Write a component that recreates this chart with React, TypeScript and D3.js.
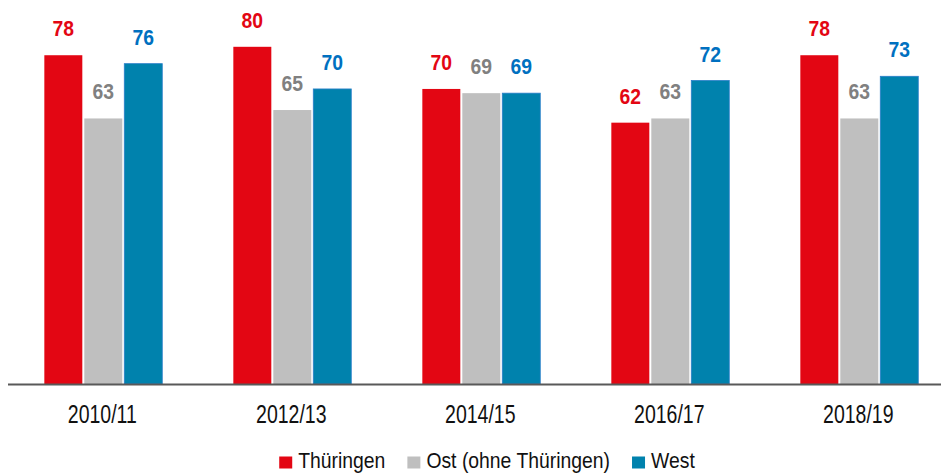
import React, { useEffect, useRef } from 'react'
import * as d3 from 'd3'

const categories = ['2010/11', '2012/13', '2014/15', '2016/17', '2018/19']
const seriesNames = ['Thüringen', 'Ost (ohne Thüringen)', 'West']
const thueringen = [78, 80, 70, 62, 78]
const ost = [63, 65, 69, 63, 63]
const west = [76, 70, 69, 72, 73]

const barColors = ['#e30613', '#bfbfbf', '#0082ad']
const labelColors = ['#e30613', '#808080', '#0070c0']

const W = 941
const H = 473
const FONT = '"Liberation Sans", Arial, sans-serif'

function App() {
  const ref = useRef<SVGSVGElement>(null)

  useEffect(() => {
    const svg = d3.select(ref.current)
    svg.selectAll('*').remove()

    const values = [thueringen, ost, west]
    const baseY = 384

    const x0 = d3.scaleBand<string>()
      .domain(categories)
      .range([8.8, 953.8])
      .paddingInner(0.376)
      .paddingOuter(0.188)

    const x1 = d3.scaleBand<number>()
      .domain([0, 1, 2])
      .range([0, x0.bandwidth()])
      .paddingInner(0.05)

    const y = d3.scaleLinear().domain([0, 100]).range([baseY, baseY - 421.5])

    const groups = svg.append('g')
      .selectAll('g')
      .data(categories)
      .join('g')
      .attr('transform', d => `translate(${x0(d)},0)`)

    groups.selectAll('rect')
      .data((d, i) => values.map((s, k) => ({ k, v: s[i] })))
      .join('rect')
      .attr('x', d => x1(d.k))
      .attr('width', x1.bandwidth())
      .attr('y', d => y(d.v))
      .attr('height', d => baseY - y(d.v))
      .attr('fill', d => barColors[d.k])
      .attr('stroke', d => d.k === 2 ? '#2a7fc9' : 'none')
      .attr('stroke-width', 0.8)

    groups.selectAll('text.val')
      .data((d, i) => values.map((s, k) => ({ k, v: s[i] })))
      .join('text')
      .attr('class', 'val')
      .attr('transform', d => `translate(${x1(d.k) + x1.bandwidth() / 2},${y(d.v) - 19}) scale(0.86,1)`)
      .attr('text-anchor', 'middle')
      .style('font-family', FONT)
      .style('font-weight', 'bold')
      .style('font-size', '22.5px')
      .style('fill', d => labelColors[d.k])
      .text(d => d.v)

    // axis line
    svg.append('line')
      .attr('x1', 8)
      .attr('x2', W)
      .attr('y1', baseY + 0.5)
      .attr('y2', baseY + 0.5)
      .style('stroke', '#595959')
      .style('stroke-width', 2)

    groups.append('text')
      .attr('transform', `translate(${x0.bandwidth() / 2 - 1},422.5) scale(0.78,1)`)
      .attr('text-anchor', 'middle')
      .style('font-family', FONT)
      .style('font-size', '25px')
      .style('fill', '#111')
      .text(d => d)

    // legend
    const legend = svg.append('g')
    const sx = 0.88
    let cx = 0
    const items = seriesNames.map((name, k) => {
      const g = legend.append('g')
      g.append('rect')
        .attr('x', 0)
        .attr('y', 456.5)
        .attr('width', 13)
        .attr('height', 12)
        .attr('fill', barColors[k])
      const t = g.append('text')
        .attr('transform', `translate(19,468.3) scale(${sx},1)`)
        .style('font-family', FONT)
        .style('font-size', '22px')
        .style('fill', '#111')
        .text(name)
      const tw = (t.node() as SVGTextElement).getComputedTextLength() * sx
      const w = 19 + tw
      const item = { g, x: cx }
      cx += w + 22
      return item
    })
    const total = cx - 22
    const start = 487 - total / 2
    items.forEach(it => it.g.attr('transform', `translate(${start + it.x},0)`))
  }, [])

  return (
    <svg ref={ref} width={W} height={H} style={{ display: 'block', position: 'absolute', left: 0, top: 0, background: '#fff' }} />
  )
}

export default App
